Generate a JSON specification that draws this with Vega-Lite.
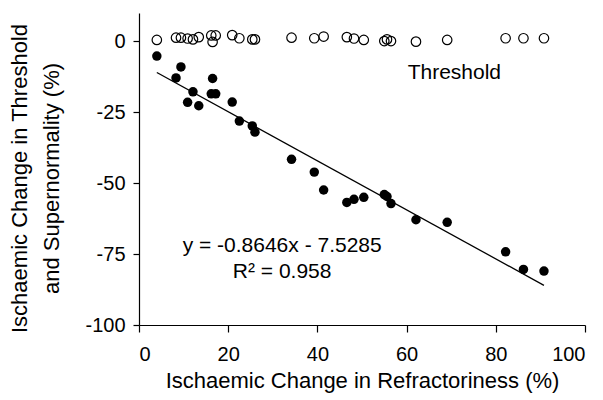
{
  "$schema": "https://vega.github.io/schema/vega-lite/v6.json",
  "width": 446,
  "height": 312,
  "autosize": "none",
  "padding": {"left": 139, "top": 13, "right": 18, "bottom": 75},
  "background": "white",
  "config": {
    "view": {"stroke": null},
    "font": "Liberation Sans",
    "axis": {
      "grid": false,
      "domainColor": "black",
      "domainWidth": 1.2,
      "tickColor": "black",
      "tickWidth": 1.2,
      "labelColor": "black",
      "titleColor": "black",
      "labelFont": "Liberation Sans",
      "titleFont": "Liberation Sans",
      "labelFontSize": 20,
      "titleFontSize": 22,
      "titleFontWeight": "normal"
    }
  },
  "datasets": {
    "pts": [
      {"r": 4.0, "thr": 0.5, "sup": -5.2},
      {"r": 8.3, "thr": 1.3, "sup": -12.9},
      {"r": 9.4, "thr": 1.3, "sup": -9.0},
      {"r": 10.9, "thr": 1.0, "sup": -21.5},
      {"r": 12.1, "thr": 0.7, "sup": -17.8},
      {"r": 13.4, "thr": 1.5, "sup": -22.7},
      {"r": 16.2, "thr": 2.1, "sup": -18.5},
      {"r": 16.5, "thr": -0.2, "sup": -13.1},
      {"r": 17.2, "thr": 2.1, "sup": -18.5},
      {"r": 20.9, "thr": 2.2, "sup": -21.4},
      {"r": 22.5, "thr": 1.1, "sup": -28.1},
      {"r": 25.4, "thr": 0.7, "sup": -29.8},
      {"r": 26.0, "thr": 0.7, "sup": -32.0},
      {"r": 34.2, "thr": 1.3, "sup": -41.6},
      {"r": 39.3, "thr": 1.1, "sup": -46.1},
      {"r": 41.4, "thr": 1.7, "sup": -52.4},
      {"r": 46.6, "thr": 1.5, "sup": -56.8},
      {"r": 48.2, "thr": 1.0, "sup": -55.7},
      {"r": 50.4, "thr": 0.5, "sup": -55.0},
      {"r": 55.0, "thr": 0.1, "sup": -54.0},
      {"r": 55.6, "thr": 0.7, "sup": -54.7},
      {"r": 56.5, "thr": 0.1, "sup": -57.2},
      {"r": 62.1, "thr": -0.1, "sup": -62.9},
      {"r": 69.1, "thr": 0.5, "sup": -63.8},
      {"r": 82.2, "thr": 1.1, "sup": -74.2},
      {"r": 86.2, "thr": 1.1, "sup": -80.4},
      {"r": 90.8, "thr": 1.1, "sup": -81.0}
    ],
    "fit": [
      {"r": 4.0, "y": -10.99},
      {"r": 90.8, "y": -86.03}
    ],
    "labels": [
      {"r": 32.1, "y": -74.3, "t": "y = -0.8646x - 7.5285"},
      {"r": 32.1, "y": -83.3, "t": "R² = 0.958"},
      {"r": 70.7, "y": -13.2, "t": "Threshold"}
    ]
  },
  "layer": [
    {
      "data": {"name": "fit"},
      "mark": {"type": "line", "color": "black", "strokeWidth": 1.3},
      "encoding": {
        "x": {"field": "r", "type": "quantitative", "scale": {"domain": [0, 100], "nice": false},
          "axis": {"values": [0, 20, 40, 60, 80, 100], "title": "Ischaemic Change in Refractoriness (%)", "tickSize": 7, "labelPadding": 12, "titleBaseline": "alphabetic", "titleY": 62}},
        "y": {"field": "y", "type": "quantitative", "scale": {"domain": [-100, 10], "nice": false, "zero": false},
          "axis": {"values": [0, -25, -50, -75, -100], "labelExpr": "replace(datum.label, '−', '-')", "title": ["Ischaemic Change in Threshold", "and Supernormality (%)"], "tickSize": 6, "labelPadding": 8, "titleLineHeight": 32, "titleX": -108, "titleY": 165, "titleBaseline": "bottom"}}
      }
    },
    {
      "data": {"name": "pts"},
      "mark": {"type": "point", "shape": "circle", "filled": true, "color": "black", "size": 90, "opacity": 1},
      "encoding": {
        "x": {"field": "r", "type": "quantitative"},
        "y": {"field": "sup", "type": "quantitative"}
      }
    },
    {
      "data": {"name": "pts"},
      "mark": {"type": "point", "shape": "circle", "filled": false, "color": "black", "fill": "white", "fillOpacity": 0, "size": 90, "strokeWidth": 1.2, "opacity": 1},
      "encoding": {
        "x": {"field": "r", "type": "quantitative"},
        "y": {"field": "thr", "type": "quantitative"}
      }
    },
    {
      "data": {"name": "labels"},
      "mark": {"type": "text", "font": "Liberation Sans", "fontSize": 21, "color": "black", "align": "center", "baseline": "alphabetic"},
      "encoding": {
        "x": {"field": "r", "type": "quantitative"},
        "y": {"field": "y", "type": "quantitative"},
        "text": {"field": "t"}
      }
    }
  ]
}
